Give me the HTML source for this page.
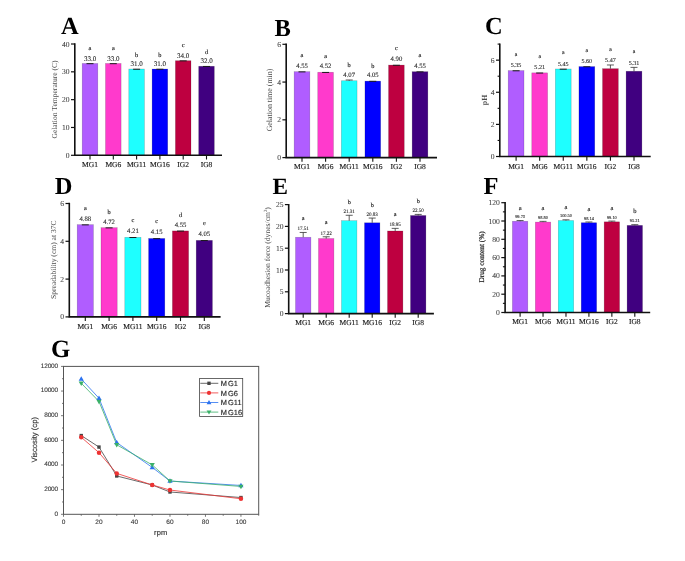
<!DOCTYPE html>
<html><head><meta charset="utf-8"><style>
html,body{margin:0;padding:0;background:#fff;width:685px;height:561px;overflow:hidden}
svg{display:block;will-change:transform}
svg text{text-rendering:geometricPrecision}
.v{fill:#2a2a2a;stroke:#2a2a2a;stroke-width:0.1px}
.l{fill:#222;stroke:#222;stroke-width:0.15px}
.x{fill:#222;stroke:#222;stroke-width:0.15px}
.t{fill:#3a3a3a;stroke:#3a3a3a;stroke-width:0.05px}
.ti{fill:#4a4a4a}
.L{fill:#000}
.gl{fill:#222;stroke:#222;stroke-width:0.15px}
.gt{fill:#333;stroke:#333;stroke-width:0.1px}
.gti{fill:#333;stroke:#333;stroke-width:0.15px}
.tiF{fill:#222;stroke:#222;stroke-width:0.2px}

</style></head><body>
<svg width="685" height="561" viewBox="0 0 685 561" font-family='"Liberation Serif", serif'>
<rect width="685" height="561" fill="#fff"/>
<rect x="82.20" y="63.48" width="15.60" height="91.82" fill="#B05DFF" stroke="#000" stroke-opacity="0.25" stroke-width="0.6"/>
<path d="M86.50 63.68H93.50" stroke="#1a1a1a" stroke-width="1" fill="none"/>
<text x="90.00" y="60.68" font-size="7" text-anchor="middle" class="v">33.0</text>
<text x="90.00" y="49.68" font-size="6.3" text-anchor="middle" class="l">a</text>
<path d="M90.00 155.30V159.50" stroke="#111" stroke-width="1.1"/>
<text x="90.00" y="167.00" font-size="7.5" text-anchor="middle" class="x">MG1</text>
<rect x="105.50" y="63.48" width="15.60" height="91.82" fill="#FF3ACC" stroke="#000" stroke-opacity="0.25" stroke-width="0.6"/>
<path d="M109.80 63.68H116.80" stroke="#1a1a1a" stroke-width="1" fill="none"/>
<text x="113.30" y="60.68" font-size="7" text-anchor="middle" class="v">33.0</text>
<text x="113.30" y="49.68" font-size="6.3" text-anchor="middle" class="l">a</text>
<path d="M113.30 155.30V159.50" stroke="#111" stroke-width="1.1"/>
<text x="113.30" y="167.00" font-size="7.5" text-anchor="middle" class="x">MG6</text>
<rect x="128.80" y="69.04" width="15.60" height="86.26" fill="#1EFFFF" stroke="#000" stroke-opacity="0.25" stroke-width="0.6"/>
<path d="M133.10 69.24H140.10" stroke="#1a1a1a" stroke-width="1" fill="none"/>
<text x="136.60" y="66.24" font-size="7" text-anchor="middle" class="v">31.0</text>
<text x="136.60" y="56.54" font-size="6.3" text-anchor="middle" class="l">b</text>
<path d="M136.60 155.30V159.50" stroke="#111" stroke-width="1.1"/>
<text x="136.60" y="167.00" font-size="7.5" text-anchor="middle" class="x">MG11</text>
<rect x="152.10" y="69.04" width="15.60" height="86.26" fill="#0000FF" stroke="#000" stroke-opacity="0.25" stroke-width="0.6"/>
<path d="M156.40 69.24H163.40" stroke="#1a1a1a" stroke-width="1" fill="none"/>
<text x="159.90" y="66.24" font-size="7" text-anchor="middle" class="v">31.0</text>
<text x="159.90" y="56.54" font-size="6.3" text-anchor="middle" class="l">b</text>
<path d="M159.90 155.30V159.50" stroke="#111" stroke-width="1.1"/>
<text x="159.90" y="167.00" font-size="7.5" text-anchor="middle" class="x">MG16</text>
<rect x="175.40" y="60.70" width="15.60" height="94.61" fill="#BE0040" stroke="#000" stroke-opacity="0.25" stroke-width="0.6"/>
<path d="M179.70 60.90H186.70" stroke="#1a1a1a" stroke-width="1" fill="none"/>
<text x="183.20" y="57.90" font-size="7" text-anchor="middle" class="v">34.0</text>
<text x="183.20" y="46.90" font-size="6.3" text-anchor="middle" class="l">c</text>
<path d="M183.20 155.30V159.50" stroke="#111" stroke-width="1.1"/>
<text x="183.20" y="167.00" font-size="7.5" text-anchor="middle" class="x">IG2</text>
<rect x="198.70" y="66.26" width="15.60" height="89.04" fill="#400080" stroke="#000" stroke-opacity="0.25" stroke-width="0.6"/>
<path d="M203.00 66.46H210.00" stroke="#1a1a1a" stroke-width="1" fill="none"/>
<text x="206.50" y="63.46" font-size="7" text-anchor="middle" class="v">32.0</text>
<text x="206.50" y="53.76" font-size="6.3" text-anchor="middle" class="l">d</text>
<path d="M206.50 155.30V159.50" stroke="#111" stroke-width="1.1"/>
<text x="206.50" y="167.00" font-size="7.5" text-anchor="middle" class="x">IG8</text>
<path d="M74.80 43.30V155.30H222.00" stroke="#111" stroke-width="1.6" fill="none"/>
<path d="M71.00 155.30H74.80" stroke="#111" stroke-width="1.2"/>
<text x="69.60" y="157.80" font-size="7.6" text-anchor="end" class="t">0</text>
<path d="M71.00 127.48H74.80" stroke="#111" stroke-width="1.2"/>
<text x="69.60" y="129.98" font-size="7.6" text-anchor="end" class="t">10</text>
<path d="M71.00 99.65H74.80" stroke="#111" stroke-width="1.2"/>
<text x="69.60" y="102.15" font-size="7.6" text-anchor="end" class="t">20</text>
<path d="M71.00 71.83H74.80" stroke="#111" stroke-width="1.2"/>
<text x="69.60" y="74.33" font-size="7.6" text-anchor="end" class="t">30</text>
<path d="M71.00 44.00H74.80" stroke="#111" stroke-width="1.2"/>
<text x="69.60" y="46.50" font-size="7.6" text-anchor="end" class="t">40</text>
<text transform="translate(57.20,99.50) rotate(-90)" font-size="7.6" text-anchor="middle" class="ti">Gelation Temperature (C)</text>
<text x="61" y="33.7" font-size="24.5" font-weight="bold" class="L">A</text>
<rect x="294.15" y="71.68" width="15.70" height="85.92" fill="#B05DFF" stroke="#000" stroke-opacity="0.25" stroke-width="0.6"/>
<path d="M298.50 71.88H305.50" stroke="#1a1a1a" stroke-width="1" fill="none"/>
<text x="302.00" y="67.88" font-size="6.7" text-anchor="middle" class="v">4.55</text>
<text x="302.00" y="56.98" font-size="6.3" text-anchor="middle" class="l">a</text>
<path d="M302.00 157.60V161.80" stroke="#111" stroke-width="1.1"/>
<text x="302.00" y="169.30" font-size="7.5" text-anchor="middle" class="x">MG1</text>
<rect x="317.75" y="72.25" width="15.70" height="85.35" fill="#FF3ACC" stroke="#000" stroke-opacity="0.25" stroke-width="0.6"/>
<path d="M322.10 72.45H329.10" stroke="#1a1a1a" stroke-width="1" fill="none"/>
<text x="325.60" y="68.45" font-size="6.7" text-anchor="middle" class="v">4.52</text>
<text x="325.60" y="57.55" font-size="6.3" text-anchor="middle" class="l">a</text>
<path d="M325.60 157.60V161.80" stroke="#111" stroke-width="1.1"/>
<text x="325.60" y="169.30" font-size="7.5" text-anchor="middle" class="x">MG6</text>
<rect x="341.35" y="80.74" width="15.70" height="76.86" fill="#1EFFFF" stroke="#000" stroke-opacity="0.25" stroke-width="0.6"/>
<path d="M349.20 80.74V79.99M345.70 79.99H352.70" stroke="#333" stroke-width="0.8" fill="none"/>
<text x="349.20" y="76.79" font-size="6.7" text-anchor="middle" class="v">4.07</text>
<text x="349.20" y="67.19" font-size="6.3" text-anchor="middle" class="l">b</text>
<path d="M349.20 157.60V161.80" stroke="#111" stroke-width="1.1"/>
<text x="349.20" y="169.30" font-size="7.5" text-anchor="middle" class="x">MG11</text>
<rect x="364.95" y="81.12" width="15.70" height="76.48" fill="#0000FF" stroke="#000" stroke-opacity="0.25" stroke-width="0.6"/>
<path d="M369.30 81.32H376.30" stroke="#1a1a1a" stroke-width="1" fill="none"/>
<text x="372.80" y="77.32" font-size="6.7" text-anchor="middle" class="v">4.05</text>
<text x="372.80" y="67.72" font-size="6.3" text-anchor="middle" class="l">b</text>
<path d="M372.80 157.60V161.80" stroke="#111" stroke-width="1.1"/>
<text x="372.80" y="169.30" font-size="7.5" text-anchor="middle" class="x">MG16</text>
<rect x="388.55" y="65.07" width="15.70" height="92.53" fill="#BE0040" stroke="#000" stroke-opacity="0.25" stroke-width="0.6"/>
<path d="M392.90 65.27H399.90" stroke="#1a1a1a" stroke-width="1" fill="none"/>
<text x="396.40" y="61.27" font-size="6.7" text-anchor="middle" class="v">4.90</text>
<text x="396.40" y="50.37" font-size="6.3" text-anchor="middle" class="l">c</text>
<path d="M396.40 157.60V161.80" stroke="#111" stroke-width="1.1"/>
<text x="396.40" y="169.30" font-size="7.5" text-anchor="middle" class="x">IG2</text>
<rect x="412.15" y="71.68" width="15.70" height="85.92" fill="#400080" stroke="#000" stroke-opacity="0.25" stroke-width="0.6"/>
<path d="M416.50 71.88H423.50" stroke="#1a1a1a" stroke-width="1" fill="none"/>
<text x="420.00" y="67.88" font-size="6.7" text-anchor="middle" class="v">4.55</text>
<text x="420.00" y="56.98" font-size="6.3" text-anchor="middle" class="l">a</text>
<path d="M420.00 157.60V161.80" stroke="#111" stroke-width="1.1"/>
<text x="420.00" y="169.30" font-size="7.5" text-anchor="middle" class="x">IG8</text>
<path d="M286.20 43.60V157.60H437.00" stroke="#111" stroke-width="1.6" fill="none"/>
<path d="M282.40 157.60H286.20" stroke="#111" stroke-width="1.2"/>
<text x="281.00" y="160.10" font-size="7.6" text-anchor="end" class="t">0</text>
<path d="M282.40 119.83H286.20" stroke="#111" stroke-width="1.2"/>
<text x="281.00" y="122.33" font-size="7.6" text-anchor="end" class="t">2</text>
<path d="M282.40 82.07H286.20" stroke="#111" stroke-width="1.2"/>
<text x="281.00" y="84.57" font-size="7.6" text-anchor="end" class="t">4</text>
<path d="M282.40 44.30H286.20" stroke="#111" stroke-width="1.2"/>
<text x="281.00" y="46.80" font-size="7.6" text-anchor="end" class="t">6</text>
<text transform="translate(271.70,100.00) rotate(-90)" font-size="7.9" text-anchor="middle" class="ti">Gelation time (min)</text>
<text x="274.6" y="35.5" font-size="24.5" font-weight="bold" class="L">B</text>
<rect x="508.20" y="70.59" width="15.80" height="85.91" fill="#B05DFF" stroke="#000" stroke-opacity="0.25" stroke-width="0.6"/>
<path d="M512.60 70.79H519.60" stroke="#1a1a1a" stroke-width="1" fill="none"/>
<text x="516.10" y="67.19" font-size="6.1" text-anchor="middle" class="v">5.35</text>
<text x="516.10" y="55.99" font-size="5.8" text-anchor="middle" class="l">a</text>
<path d="M516.10 156.50V160.70" stroke="#111" stroke-width="1.1"/>
<text x="516.10" y="168.80" font-size="7.5" text-anchor="middle" class="x">MG1</text>
<rect x="531.78" y="72.84" width="15.80" height="83.66" fill="#FF3ACC" stroke="#000" stroke-opacity="0.25" stroke-width="0.6"/>
<path d="M536.18 73.04H543.18" stroke="#1a1a1a" stroke-width="1" fill="none"/>
<text x="539.68" y="69.44" font-size="6.1" text-anchor="middle" class="v">5.21</text>
<text x="539.68" y="58.24" font-size="5.8" text-anchor="middle" class="l">a</text>
<path d="M539.68 156.50V160.70" stroke="#111" stroke-width="1.1"/>
<text x="539.68" y="168.80" font-size="7.5" text-anchor="middle" class="x">MG6</text>
<rect x="555.36" y="68.99" width="15.80" height="87.51" fill="#1EFFFF" stroke="#000" stroke-opacity="0.25" stroke-width="0.6"/>
<path d="M559.76 69.19H566.76" stroke="#1a1a1a" stroke-width="1" fill="none"/>
<text x="563.26" y="65.59" font-size="6.1" text-anchor="middle" class="v">5.45</text>
<text x="563.26" y="54.39" font-size="5.8" text-anchor="middle" class="l">a</text>
<path d="M563.26 156.50V160.70" stroke="#111" stroke-width="1.1"/>
<text x="563.26" y="168.80" font-size="7.5" text-anchor="middle" class="x">MG11</text>
<rect x="578.94" y="66.58" width="15.80" height="89.92" fill="#0000FF" stroke="#000" stroke-opacity="0.25" stroke-width="0.6"/>
<path d="M583.34 66.78H590.34" stroke="#1a1a1a" stroke-width="1" fill="none"/>
<text x="586.84" y="63.18" font-size="6.1" text-anchor="middle" class="v">5.60</text>
<text x="586.84" y="51.98" font-size="5.8" text-anchor="middle" class="l">a</text>
<path d="M586.84 156.50V160.70" stroke="#111" stroke-width="1.1"/>
<text x="586.84" y="168.80" font-size="7.5" text-anchor="middle" class="x">MG16</text>
<rect x="602.52" y="68.67" width="15.80" height="87.83" fill="#BE0040" stroke="#000" stroke-opacity="0.25" stroke-width="0.6"/>
<path d="M610.42 68.67V64.97M606.92 64.97H613.92" stroke="#333" stroke-width="0.8" fill="none"/>
<text x="610.42" y="62.17" font-size="6.1" text-anchor="middle" class="v">5.47</text>
<text x="610.42" y="50.97" font-size="5.8" text-anchor="middle" class="l">a</text>
<path d="M610.42 156.50V160.70" stroke="#111" stroke-width="1.1"/>
<text x="610.42" y="168.80" font-size="7.5" text-anchor="middle" class="x">IG2</text>
<rect x="626.10" y="71.24" width="15.80" height="85.26" fill="#400080" stroke="#000" stroke-opacity="0.25" stroke-width="0.6"/>
<path d="M634.00 71.24V67.38M630.50 67.38H637.50" stroke="#333" stroke-width="0.8" fill="none"/>
<text x="634.00" y="64.58" font-size="6.1" text-anchor="middle" class="v">5.31</text>
<text x="634.00" y="53.38" font-size="5.8" text-anchor="middle" class="l">a</text>
<path d="M634.00 156.50V160.70" stroke="#111" stroke-width="1.1"/>
<text x="634.00" y="168.80" font-size="7.5" text-anchor="middle" class="x">IG8</text>
<path d="M499.80 43.40V156.50H650.70" stroke="#111" stroke-width="1.6" fill="none"/>
<path d="M496.00 156.50H499.80" stroke="#111" stroke-width="1.2"/>
<text x="494.60" y="159.00" font-size="7.6" text-anchor="end" class="t">0</text>
<path d="M496.00 124.39H499.80" stroke="#111" stroke-width="1.2"/>
<text x="494.60" y="126.89" font-size="7.6" text-anchor="end" class="t">2</text>
<path d="M496.00 92.27H499.80" stroke="#111" stroke-width="1.2"/>
<text x="494.60" y="94.77" font-size="7.6" text-anchor="end" class="t">4</text>
<path d="M496.00 60.16H499.80" stroke="#111" stroke-width="1.2"/>
<text x="494.60" y="62.66" font-size="7.6" text-anchor="end" class="t">6</text>
<path d="M497.60 140.44H499.80" stroke="#111" stroke-width="1.1"/>
<path d="M497.60 108.33H499.80" stroke="#111" stroke-width="1.1"/>
<path d="M497.60 76.21H499.80" stroke="#111" stroke-width="1.1"/>
<path d="M497.60 44.10H499.80" stroke="#111" stroke-width="1.1"/>
<text transform="translate(487.20,100.00) rotate(-90)" font-size="7.8" text-anchor="middle" class="ti"><tspan font-weight="bold">pH</tspan></text>
<text x="485.1" y="33.8" font-size="24.5" font-weight="bold" class="L">C</text>
<rect x="77.20" y="224.67" width="16.20" height="92.23" fill="#B05DFF" stroke="#000" stroke-opacity="0.25" stroke-width="0.6"/>
<path d="M81.80 224.87H88.80" stroke="#1a1a1a" stroke-width="1" fill="none"/>
<text x="85.30" y="220.67" font-size="6.7" text-anchor="middle" class="v">4.88</text>
<text x="85.30" y="209.67" font-size="6.3" text-anchor="middle" class="l">a</text>
<path d="M85.30 316.90V321.10" stroke="#111" stroke-width="1.1"/>
<text x="85.30" y="328.80" font-size="7.5" text-anchor="middle" class="x">MG1</text>
<rect x="101.00" y="227.69" width="16.20" height="89.21" fill="#FF3ACC" stroke="#000" stroke-opacity="0.25" stroke-width="0.6"/>
<path d="M105.60 227.89H112.60" stroke="#1a1a1a" stroke-width="1" fill="none"/>
<text x="109.10" y="223.69" font-size="6.7" text-anchor="middle" class="v">4.72</text>
<text x="109.10" y="213.99" font-size="6.3" text-anchor="middle" class="l">b</text>
<path d="M109.10 316.90V321.10" stroke="#111" stroke-width="1.1"/>
<text x="109.10" y="328.80" font-size="7.5" text-anchor="middle" class="x">MG6</text>
<rect x="124.80" y="237.33" width="16.20" height="79.57" fill="#1EFFFF" stroke="#000" stroke-opacity="0.25" stroke-width="0.6"/>
<path d="M129.40 237.53H136.40" stroke="#1a1a1a" stroke-width="1" fill="none"/>
<text x="132.90" y="233.33" font-size="6.7" text-anchor="middle" class="v">4.21</text>
<text x="132.90" y="222.33" font-size="6.3" text-anchor="middle" class="l">c</text>
<path d="M132.90 316.90V321.10" stroke="#111" stroke-width="1.1"/>
<text x="132.90" y="328.80" font-size="7.5" text-anchor="middle" class="x">MG11</text>
<rect x="148.60" y="238.46" width="16.20" height="78.44" fill="#0000FF" stroke="#000" stroke-opacity="0.25" stroke-width="0.6"/>
<path d="M153.20 238.66H160.20" stroke="#1a1a1a" stroke-width="1" fill="none"/>
<text x="156.70" y="234.46" font-size="6.7" text-anchor="middle" class="v">4.15</text>
<text x="156.70" y="223.46" font-size="6.3" text-anchor="middle" class="l">c</text>
<path d="M156.70 316.90V321.10" stroke="#111" stroke-width="1.1"/>
<text x="156.70" y="328.80" font-size="7.5" text-anchor="middle" class="x">MG16</text>
<rect x="172.40" y="230.91" width="16.20" height="85.99" fill="#BE0040" stroke="#000" stroke-opacity="0.25" stroke-width="0.6"/>
<path d="M177.00 231.10H184.00" stroke="#1a1a1a" stroke-width="1" fill="none"/>
<text x="180.50" y="226.91" font-size="6.7" text-anchor="middle" class="v">4.55</text>
<text x="180.50" y="217.21" font-size="6.3" text-anchor="middle" class="l">d</text>
<path d="M180.50 316.90V321.10" stroke="#111" stroke-width="1.1"/>
<text x="180.50" y="328.80" font-size="7.5" text-anchor="middle" class="x">IG2</text>
<rect x="196.20" y="240.36" width="16.20" height="76.54" fill="#400080" stroke="#000" stroke-opacity="0.25" stroke-width="0.6"/>
<path d="M200.80 240.56H207.80" stroke="#1a1a1a" stroke-width="1" fill="none"/>
<text x="204.30" y="236.36" font-size="6.7" text-anchor="middle" class="v">4.05</text>
<text x="204.30" y="225.36" font-size="6.3" text-anchor="middle" class="l">e</text>
<path d="M204.30 316.90V321.10" stroke="#111" stroke-width="1.1"/>
<text x="204.30" y="328.80" font-size="7.5" text-anchor="middle" class="x">IG8</text>
<path d="M69.30 202.80V316.90H220.60" stroke="#111" stroke-width="1.6" fill="none"/>
<path d="M65.50 316.90H69.30" stroke="#111" stroke-width="1.2"/>
<text x="64.10" y="319.40" font-size="7.6" text-anchor="end" class="t">0</text>
<path d="M65.50 279.10H69.30" stroke="#111" stroke-width="1.2"/>
<text x="64.10" y="281.60" font-size="7.6" text-anchor="end" class="t">2</text>
<path d="M65.50 241.30H69.30" stroke="#111" stroke-width="1.2"/>
<text x="64.10" y="243.80" font-size="7.6" text-anchor="end" class="t">4</text>
<path d="M65.50 203.50H69.30" stroke="#111" stroke-width="1.2"/>
<text x="64.10" y="206.00" font-size="7.6" text-anchor="end" class="t">6</text>
<text transform="translate(55.60,259.70) rotate(-90)" font-size="7.6" text-anchor="middle" class="ti">Spreadability (cm) at 37C</text>
<text x="54.7" y="194" font-size="24.5" font-weight="bold" class="L">D</text>
<rect x="295.50" y="237.26" width="15.40" height="76.34" fill="#B05DFF" stroke="#000" stroke-opacity="0.25" stroke-width="0.6"/>
<path d="M303.20 237.26V232.46M299.70 232.46H306.70" stroke="#333" stroke-width="0.8" fill="none"/>
<text x="303.20" y="230.26" font-size="5.1" text-anchor="middle" class="v">17.51</text>
<text x="303.20" y="220.06" font-size="6.2" text-anchor="middle" class="l">a</text>
<path d="M303.20 313.60V317.80" stroke="#111" stroke-width="1.1"/>
<text x="303.20" y="325.00" font-size="7.5" text-anchor="middle" class="x">MG1</text>
<rect x="318.50" y="238.52" width="15.40" height="75.08" fill="#FF3ACC" stroke="#000" stroke-opacity="0.25" stroke-width="0.6"/>
<path d="M326.20 238.52V236.78M322.70 236.78H329.70" stroke="#333" stroke-width="0.8" fill="none"/>
<text x="326.20" y="234.58" font-size="5.1" text-anchor="middle" class="v">17.22</text>
<text x="326.20" y="224.38" font-size="6.2" text-anchor="middle" class="l">a</text>
<path d="M326.20 313.60V317.80" stroke="#111" stroke-width="1.1"/>
<text x="326.20" y="325.00" font-size="7.5" text-anchor="middle" class="x">MG6</text>
<rect x="341.50" y="220.69" width="15.40" height="92.91" fill="#1EFFFF" stroke="#000" stroke-opacity="0.25" stroke-width="0.6"/>
<path d="M349.20 220.69V215.28M345.70 215.28H352.70" stroke="#333" stroke-width="0.8" fill="none"/>
<text x="349.20" y="213.08" font-size="5.1" text-anchor="middle" class="v">21.31</text>
<text x="349.20" y="204.18" font-size="6.2" text-anchor="middle" class="l">b</text>
<path d="M349.20 313.60V317.80" stroke="#111" stroke-width="1.1"/>
<text x="349.20" y="325.00" font-size="7.5" text-anchor="middle" class="x">MG11</text>
<rect x="364.50" y="222.78" width="15.40" height="90.82" fill="#0000FF" stroke="#000" stroke-opacity="0.25" stroke-width="0.6"/>
<path d="M372.20 222.78V218.07M368.70 218.07H375.70" stroke="#333" stroke-width="0.8" fill="none"/>
<text x="372.20" y="215.87" font-size="5.1" text-anchor="middle" class="v">20.83</text>
<text x="372.20" y="206.97" font-size="6.2" text-anchor="middle" class="l">b</text>
<path d="M372.20 313.60V317.80" stroke="#111" stroke-width="1.1"/>
<text x="372.20" y="325.00" font-size="7.5" text-anchor="middle" class="x">MG16</text>
<rect x="387.50" y="230.98" width="15.40" height="82.62" fill="#BE0040" stroke="#000" stroke-opacity="0.25" stroke-width="0.6"/>
<path d="M395.20 230.98V228.36M391.70 228.36H398.70" stroke="#333" stroke-width="0.8" fill="none"/>
<text x="395.20" y="226.16" font-size="5.1" text-anchor="middle" class="v">18.95</text>
<text x="395.20" y="215.96" font-size="6.2" text-anchor="middle" class="l">a</text>
<path d="M395.20 313.60V317.80" stroke="#111" stroke-width="1.1"/>
<text x="395.20" y="325.00" font-size="7.5" text-anchor="middle" class="x">IG2</text>
<rect x="410.50" y="215.50" width="15.40" height="98.10" fill="#400080" stroke="#000" stroke-opacity="0.25" stroke-width="0.6"/>
<path d="M418.20 215.50V214.41M414.70 214.41H421.70" stroke="#333" stroke-width="0.8" fill="none"/>
<text x="418.20" y="212.21" font-size="5.1" text-anchor="middle" class="v">22.50</text>
<text x="418.20" y="203.31" font-size="6.2" text-anchor="middle" class="l">b</text>
<path d="M418.20 313.60V317.80" stroke="#111" stroke-width="1.1"/>
<text x="418.20" y="325.00" font-size="7.5" text-anchor="middle" class="x">IG8</text>
<path d="M288.70 203.90V313.60H433.90" stroke="#111" stroke-width="1.6" fill="none"/>
<path d="M284.90 313.60H288.70" stroke="#111" stroke-width="1.2"/>
<text x="283.50" y="316.10" font-size="7.6" text-anchor="end" class="t">0</text>
<path d="M284.90 291.80H288.70" stroke="#111" stroke-width="1.2"/>
<text x="283.50" y="294.30" font-size="7.6" text-anchor="end" class="t">5</text>
<path d="M284.90 270.00H288.70" stroke="#111" stroke-width="1.2"/>
<text x="283.50" y="272.50" font-size="7.6" text-anchor="end" class="t">10</text>
<path d="M284.90 248.20H288.70" stroke="#111" stroke-width="1.2"/>
<text x="283.50" y="250.70" font-size="7.6" text-anchor="end" class="t">15</text>
<path d="M284.90 226.40H288.70" stroke="#111" stroke-width="1.2"/>
<text x="283.50" y="228.90" font-size="7.6" text-anchor="end" class="t">20</text>
<path d="M284.90 204.60H288.70" stroke="#111" stroke-width="1.2"/>
<text x="283.50" y="207.10" font-size="7.6" text-anchor="end" class="t">25</text>
<text transform="translate(270.00,257.50) rotate(-90)" font-size="7.6" text-anchor="middle" class="ti">Mucoadhesion force (dynes/cm<tspan font-size="4.8" dy="-2.6">2</tspan><tspan dy="2.6">)</tspan></text>
<text x="272.4" y="194.2" font-size="23.2" font-weight="bold" class="L">E</text>
<rect x="512.40" y="221.25" width="15.40" height="91.25" fill="#B05DFF" stroke="#000" stroke-opacity="0.25" stroke-width="0.6"/>
<path d="M520.10 221.25V220.52M516.60 220.52H523.60" stroke="#333" stroke-width="0.8" fill="none"/>
<text x="520.10" y="218.12" font-size="4.4" text-anchor="middle" class="v">99.73</text>
<text x="520.10" y="209.52" font-size="6.5" text-anchor="middle" class="l">a</text>
<path d="M520.10 312.50V316.70" stroke="#111" stroke-width="1.1"/>
<text x="520.10" y="324.00" font-size="7.5" text-anchor="middle" class="x">MG1</text>
<rect x="535.34" y="222.10" width="15.40" height="90.40" fill="#FF3ACC" stroke="#000" stroke-opacity="0.25" stroke-width="0.6"/>
<path d="M543.04 222.10V221.37M539.54 221.37H546.54" stroke="#333" stroke-width="0.8" fill="none"/>
<text x="543.04" y="218.97" font-size="4.4" text-anchor="middle" class="v">98.80</text>
<text x="543.04" y="210.37" font-size="6.5" text-anchor="middle" class="l">a</text>
<path d="M543.04 312.50V316.70" stroke="#111" stroke-width="1.1"/>
<text x="543.04" y="324.00" font-size="7.5" text-anchor="middle" class="x">MG6</text>
<rect x="558.28" y="220.54" width="15.40" height="91.96" fill="#1EFFFF" stroke="#000" stroke-opacity="0.25" stroke-width="0.6"/>
<path d="M565.98 220.54V219.81M562.48 219.81H569.48" stroke="#333" stroke-width="0.8" fill="none"/>
<text x="565.98" y="217.41" font-size="4.4" text-anchor="middle" class="v">100.50</text>
<text x="565.98" y="208.81" font-size="6.5" text-anchor="middle" class="l">a</text>
<path d="M565.98 312.50V316.70" stroke="#111" stroke-width="1.1"/>
<text x="565.98" y="324.00" font-size="7.5" text-anchor="middle" class="x">MG11</text>
<rect x="581.22" y="222.70" width="15.40" height="89.80" fill="#0000FF" stroke="#000" stroke-opacity="0.25" stroke-width="0.6"/>
<path d="M588.92 222.70V221.97M585.42 221.97H592.42" stroke="#333" stroke-width="0.8" fill="none"/>
<text x="588.92" y="219.57" font-size="4.4" text-anchor="middle" class="v">98.14</text>
<text x="588.92" y="210.97" font-size="6.5" text-anchor="middle" class="l">a</text>
<path d="M588.92 312.50V316.70" stroke="#111" stroke-width="1.1"/>
<text x="588.92" y="324.00" font-size="7.5" text-anchor="middle" class="x">MG16</text>
<rect x="604.16" y="221.82" width="15.40" height="90.68" fill="#BE0040" stroke="#000" stroke-opacity="0.25" stroke-width="0.6"/>
<path d="M611.86 221.82V221.09M608.36 221.09H615.36" stroke="#333" stroke-width="0.8" fill="none"/>
<text x="611.86" y="218.69" font-size="4.4" text-anchor="middle" class="v">99.10</text>
<text x="611.86" y="210.09" font-size="6.5" text-anchor="middle" class="l">a</text>
<path d="M611.86 312.50V316.70" stroke="#111" stroke-width="1.1"/>
<text x="611.86" y="324.00" font-size="7.5" text-anchor="middle" class="x">IG2</text>
<rect x="627.10" y="225.38" width="15.40" height="87.12" fill="#400080" stroke="#000" stroke-opacity="0.25" stroke-width="0.6"/>
<path d="M634.80 225.38V224.65M631.30 224.65H638.30" stroke="#333" stroke-width="0.8" fill="none"/>
<text x="634.80" y="222.25" font-size="4.4" text-anchor="middle" class="v">95.21</text>
<text x="634.80" y="212.75" font-size="6.5" text-anchor="middle" class="l">b</text>
<path d="M634.80 312.50V316.70" stroke="#111" stroke-width="1.1"/>
<text x="634.80" y="324.00" font-size="7.5" text-anchor="middle" class="x">IG8</text>
<path d="M505.10 202.00V312.50H650.20" stroke="#111" stroke-width="1.6" fill="none"/>
<path d="M501.30 312.50H505.10" stroke="#111" stroke-width="1.2"/>
<text x="499.90" y="315.00" font-size="7.6" text-anchor="end" class="t">0</text>
<path d="M501.30 294.20H505.10" stroke="#111" stroke-width="1.2"/>
<text x="499.90" y="296.70" font-size="7.6" text-anchor="end" class="t">20</text>
<path d="M501.30 275.90H505.10" stroke="#111" stroke-width="1.2"/>
<text x="499.90" y="278.40" font-size="7.6" text-anchor="end" class="t">40</text>
<path d="M501.30 257.60H505.10" stroke="#111" stroke-width="1.2"/>
<text x="499.90" y="260.10" font-size="7.6" text-anchor="end" class="t">60</text>
<path d="M501.30 239.30H505.10" stroke="#111" stroke-width="1.2"/>
<text x="499.90" y="241.80" font-size="7.6" text-anchor="end" class="t">80</text>
<path d="M501.30 221.00H505.10" stroke="#111" stroke-width="1.2"/>
<text x="499.90" y="223.50" font-size="7.6" text-anchor="end" class="t">100</text>
<path d="M501.30 202.70H505.10" stroke="#111" stroke-width="1.2"/>
<text x="499.90" y="205.20" font-size="7.6" text-anchor="end" class="t">120</text>
<path d="M502.90 303.35H505.10" stroke="#111" stroke-width="1.1"/>
<path d="M502.90 285.05H505.10" stroke="#111" stroke-width="1.1"/>
<path d="M502.90 266.75H505.10" stroke="#111" stroke-width="1.1"/>
<path d="M502.90 248.45H505.10" stroke="#111" stroke-width="1.1"/>
<path d="M502.90 230.15H505.10" stroke="#111" stroke-width="1.1"/>
<path d="M502.90 211.85H505.10" stroke="#111" stroke-width="1.1"/>
<text transform="translate(484.00,256.90) rotate(-90)" font-size="7.35" text-anchor="middle" class="tiF">Drug content (%)</text>
<text x="483.6" y="193.8" font-size="24.5" font-weight="bold" class="L">F</text>
<text x="51" y="356.6" font-size="24.8" font-weight="bold" fill="#000">G</text>
<rect x="63.5" y="366.4" width="195.20" height="147.90" fill="none" stroke="#555" stroke-width="1"/>
<path d="M61.00 514.30H63.5" stroke="#555" stroke-width="0.8"/>
<text x="57.90" y="515.70" font-size="6.5" text-anchor="end" class="gt" font-family='"Liberation Sans", sans-serif' letter-spacing="-0.2">0</text>
<path d="M61.00 489.65H63.5" stroke="#555" stroke-width="0.8"/>
<text x="57.90" y="491.05" font-size="6.5" text-anchor="end" class="gt" font-family='"Liberation Sans", sans-serif' letter-spacing="-0.2">2000</text>
<path d="M61.00 465.00H63.5" stroke="#555" stroke-width="0.8"/>
<text x="57.90" y="466.40" font-size="6.5" text-anchor="end" class="gt" font-family='"Liberation Sans", sans-serif' letter-spacing="-0.2">4000</text>
<path d="M61.00 440.35H63.5" stroke="#555" stroke-width="0.8"/>
<text x="57.90" y="441.75" font-size="6.5" text-anchor="end" class="gt" font-family='"Liberation Sans", sans-serif' letter-spacing="-0.2">6000</text>
<path d="M61.00 415.70H63.5" stroke="#555" stroke-width="0.8"/>
<text x="57.90" y="417.10" font-size="6.5" text-anchor="end" class="gt" font-family='"Liberation Sans", sans-serif' letter-spacing="-0.2">8000</text>
<path d="M61.00 391.05H63.5" stroke="#555" stroke-width="0.8"/>
<text x="57.90" y="392.45" font-size="6.5" text-anchor="end" class="gt" font-family='"Liberation Sans", sans-serif' letter-spacing="-0.2">10000</text>
<path d="M61.00 366.40H63.5" stroke="#555" stroke-width="0.8"/>
<text x="57.90" y="367.80" font-size="6.5" text-anchor="end" class="gt" font-family='"Liberation Sans", sans-serif' letter-spacing="-0.2">12000</text>
<path d="M62.00 501.97H63.5" stroke="#555" stroke-width="0.8"/>
<path d="M62.00 477.32H63.5" stroke="#555" stroke-width="0.8"/>
<path d="M62.00 452.67H63.5" stroke="#555" stroke-width="0.8"/>
<path d="M62.00 428.02H63.5" stroke="#555" stroke-width="0.8"/>
<path d="M62.00 403.38H63.5" stroke="#555" stroke-width="0.8"/>
<path d="M62.00 378.72H63.5" stroke="#555" stroke-width="0.8"/>
<path d="M63.50 514.3V516.80" stroke="#555" stroke-width="0.8"/>
<text x="63.50" y="524.30" font-size="6.5" text-anchor="middle" class="gt" font-family='"Liberation Sans", sans-serif'>0</text>
<path d="M98.99 514.3V516.80" stroke="#555" stroke-width="0.8"/>
<text x="98.99" y="524.30" font-size="6.5" text-anchor="middle" class="gt" font-family='"Liberation Sans", sans-serif'>20</text>
<path d="M134.48 514.3V516.80" stroke="#555" stroke-width="0.8"/>
<text x="134.48" y="524.30" font-size="6.5" text-anchor="middle" class="gt" font-family='"Liberation Sans", sans-serif'>40</text>
<path d="M169.97 514.3V516.80" stroke="#555" stroke-width="0.8"/>
<text x="169.97" y="524.30" font-size="6.5" text-anchor="middle" class="gt" font-family='"Liberation Sans", sans-serif'>60</text>
<path d="M205.46 514.3V516.80" stroke="#555" stroke-width="0.8"/>
<text x="205.46" y="524.30" font-size="6.5" text-anchor="middle" class="gt" font-family='"Liberation Sans", sans-serif'>80</text>
<path d="M240.95 514.3V516.80" stroke="#555" stroke-width="0.8"/>
<text x="240.95" y="524.30" font-size="6.5" text-anchor="middle" class="gt" font-family='"Liberation Sans", sans-serif'>100</text>
<path d="M81.25 514.3V515.80" stroke="#555" stroke-width="0.8"/>
<path d="M116.74 514.3V515.80" stroke="#555" stroke-width="0.8"/>
<path d="M152.23 514.3V515.80" stroke="#555" stroke-width="0.8"/>
<path d="M187.72 514.3V515.80" stroke="#555" stroke-width="0.8"/>
<path d="M223.21 514.3V515.80" stroke="#555" stroke-width="0.8"/>
<path d="M258.70 514.3V515.80" stroke="#555" stroke-width="0.8"/>
<text x="160.7" y="535" font-size="7.5" letter-spacing="0.15" text-anchor="middle" class="gti" font-family='"Liberation Sans", sans-serif'>rpm</text>
<text transform="translate(36.8,439.8) rotate(-90)" font-size="7.7" text-anchor="middle" class="gti" font-family='"Liberation Sans", sans-serif'>Viscosity (cp)</text>
<polyline points="81.25,435.54 98.99,447.07 116.74,475.97 152.23,484.97 169.97,491.99 240.95,497.54" fill="none" stroke="#444" stroke-width="0.8"/>
<polyline points="81.25,437.27 98.99,452.67 116.74,473.38 152.23,484.97 169.97,490.02 240.95,498.77" fill="none" stroke="#EE3333" stroke-width="0.8"/>
<polyline points="81.25,379.03 98.99,398.26 116.74,442.57 152.23,467.39 169.97,481.02 240.95,485.46" fill="none" stroke="#2B72F0" stroke-width="0.8"/>
<polyline points="81.25,383.24 98.99,401.46 116.74,444.79 152.23,464.88 169.97,481.02 240.95,486.45" fill="none" stroke="#3AB068" stroke-width="0.8"/>
<rect x="79.56" y="433.86" width="3.38" height="3.38" fill="#444"/>
<rect x="97.30" y="445.38" width="3.38" height="3.38" fill="#444"/>
<rect x="115.05" y="474.28" width="3.38" height="3.38" fill="#444"/>
<rect x="150.54" y="483.28" width="3.38" height="3.38" fill="#444"/>
<rect x="168.29" y="490.30" width="3.38" height="3.38" fill="#444"/>
<rect x="239.27" y="495.85" width="3.38" height="3.38" fill="#444"/>
<circle cx="81.25" cy="437.27" r="2.25" fill="#EE3333"/>
<circle cx="98.99" cy="452.67" r="2.25" fill="#EE3333"/>
<circle cx="116.74" cy="473.38" r="2.25" fill="#EE3333"/>
<circle cx="152.23" cy="484.97" r="2.25" fill="#EE3333"/>
<circle cx="169.97" cy="490.02" r="2.25" fill="#EE3333"/>
<circle cx="240.95" cy="498.77" r="2.25" fill="#EE3333"/>
<path d="M81.25 376.33L83.83 380.83H78.66Z" fill="#2B72F0"/>
<path d="M98.99 395.56L101.58 400.06H96.40Z" fill="#2B72F0"/>
<path d="M116.74 439.87L119.32 444.37H114.15Z" fill="#2B72F0"/>
<path d="M152.23 464.69L154.81 469.19H149.64Z" fill="#2B72F0"/>
<path d="M169.97 478.32L172.56 482.82H167.39Z" fill="#2B72F0"/>
<path d="M240.95 482.76L243.54 487.26H238.37Z" fill="#2B72F0"/>
<path d="M81.25 385.94L83.83 381.44H78.66Z" fill="#3AB068"/>
<path d="M98.99 404.16L101.58 399.66H96.40Z" fill="#3AB068"/>
<path d="M116.74 447.49L119.32 442.99H114.15Z" fill="#3AB068"/>
<path d="M152.23 467.58L154.81 463.08H149.64Z" fill="#3AB068"/>
<path d="M169.97 483.72L172.56 479.22H167.39Z" fill="#3AB068"/>
<path d="M240.95 489.15L243.54 484.65H238.37Z" fill="#3AB068"/>
<rect x="199.6" y="378.5" width="43.1" height="38" fill="#fff" stroke="#444" stroke-width="0.8"/>
<path d="M200.3 383.30H218.3" stroke="#444" stroke-width="0.8"/>
<rect x="207.31" y="381.61" width="3.38" height="3.38" fill="#444"/>
<text x="220.7" y="386.00" font-size="7.4" class="gl" letter-spacing="0.12" font-family='"Liberation Sans", sans-serif'>M<tspan dx="0.9">G1</tspan></text>
<path d="M200.3 392.90H218.3" stroke="#EE3333" stroke-width="0.8"/>
<circle cx="209.00" cy="392.90" r="2.10" fill="#EE3333"/>
<text x="220.7" y="395.60" font-size="7.4" class="gl" letter-spacing="0.12" font-family='"Liberation Sans", sans-serif'>M<tspan dx="0.9">G6</tspan></text>
<path d="M200.3 402.50H218.3" stroke="#2B72F0" stroke-width="0.8"/>
<path d="M209.00 399.98L211.41 404.18H206.59Z" fill="#2B72F0"/>
<text x="220.7" y="405.20" font-size="7.4" class="gl" letter-spacing="0.12" font-family='"Liberation Sans", sans-serif'>M<tspan dx="0.9">G11</tspan></text>
<path d="M200.3 412.10H218.3" stroke="#3AB068" stroke-width="0.8"/>
<path d="M209.00 414.62L211.41 410.42H206.59Z" fill="#3AB068"/>
<text x="220.7" y="414.80" font-size="7.4" class="gl" letter-spacing="0.12" font-family='"Liberation Sans", sans-serif'>M<tspan dx="0.9">G16</tspan></text>
</svg>
</body></html>
